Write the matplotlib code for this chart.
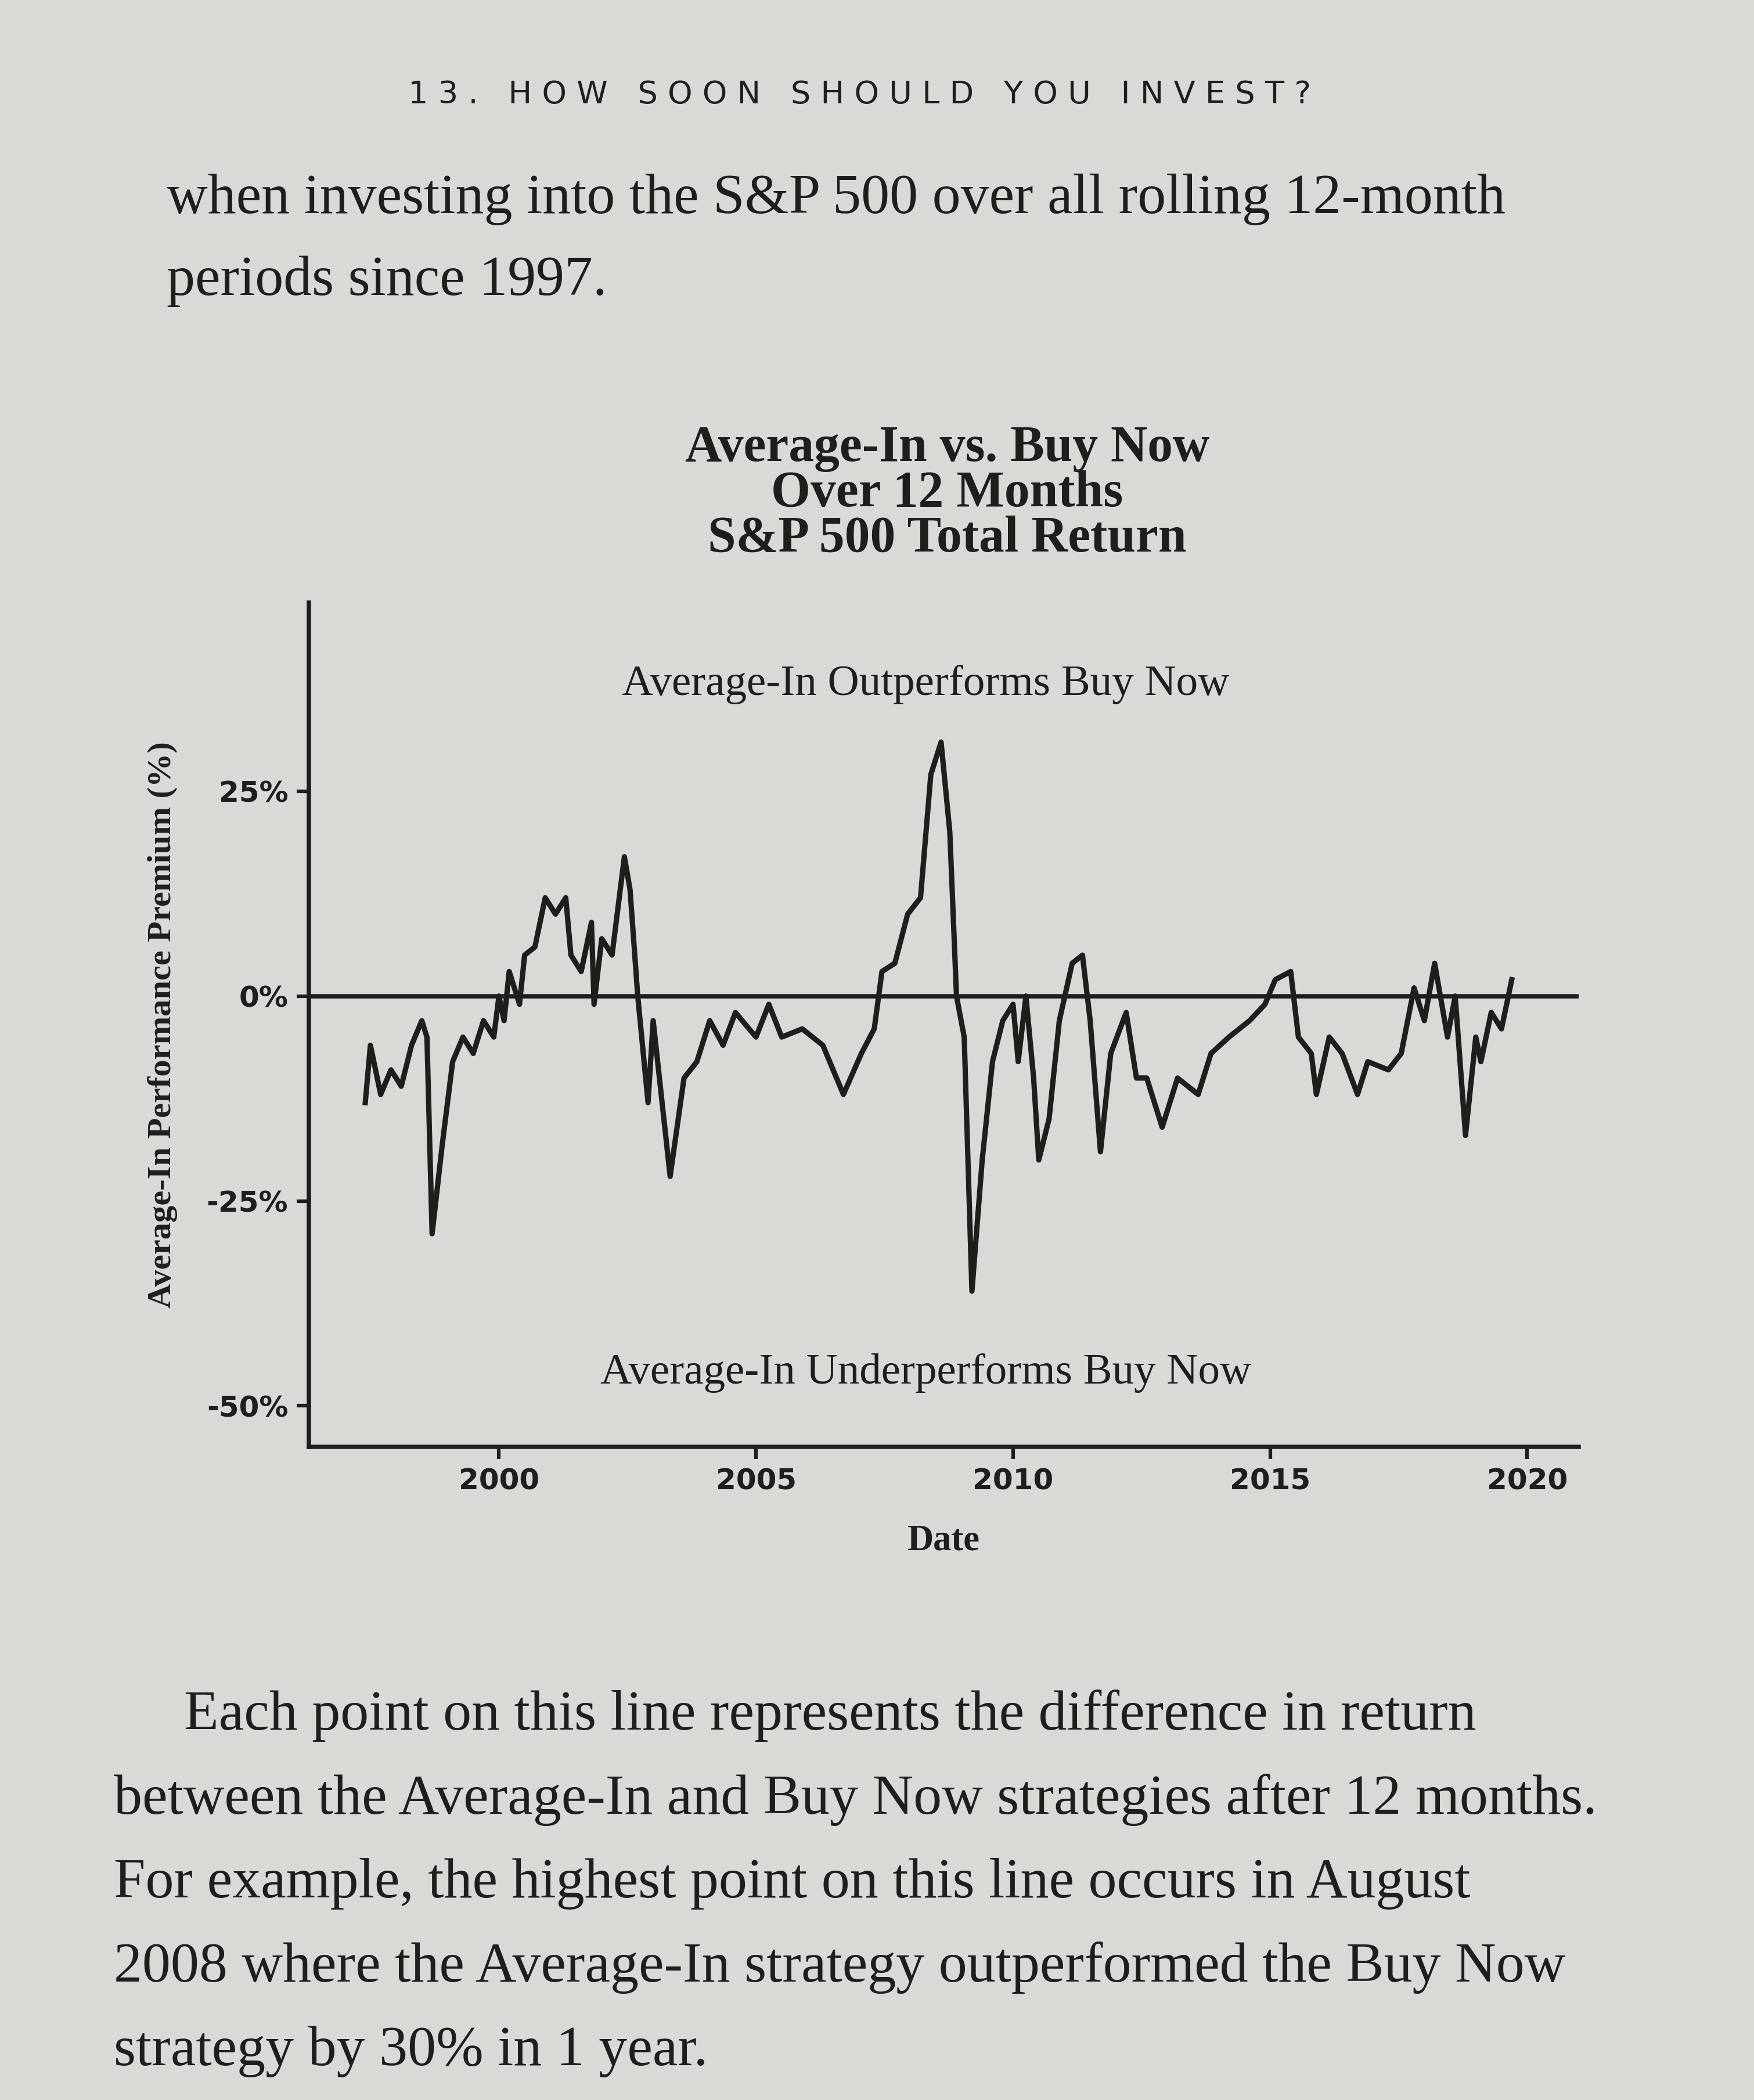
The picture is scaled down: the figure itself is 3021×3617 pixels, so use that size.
import matplotlib.pyplot as plt
import matplotlib.ticker as mticker

# values (decimal year, premium in %)
years = [1997.4, 1997.5, 1997.7, 1997.9, 1998.1, 1998.3, 1998.5, 1998.6, 1998.7, 1998.9,
         1999.1, 1999.3, 1999.5, 1999.7, 1999.9, 2000.0, 2000.1, 2000.2, 2000.4, 2000.5,
         2000.7, 2000.9, 2001.1, 2001.3, 2001.4, 2001.6, 2001.8, 2001.85, 2002.0, 2002.2,
         2002.44, 2002.55, 2002.7, 2002.9, 2003.0, 2003.33, 2003.6, 2003.85, 2004.1, 2004.36,
         2004.6, 2005.0, 2005.25, 2005.5, 2005.9, 2006.3, 2006.7, 2007.05, 2007.3, 2007.45,
         2007.7, 2007.95, 2008.2, 2008.4, 2008.6, 2008.77, 2008.9, 2009.05, 2009.2, 2009.4,
         2009.6, 2009.8, 2010.0, 2010.1, 2010.25, 2010.4, 2010.5, 2010.7, 2010.9, 2011.15,
         2011.35, 2011.5, 2011.7, 2011.9, 2012.2, 2012.4, 2012.6, 2012.9, 2013.2, 2013.6,
         2013.85, 2014.2, 2014.6, 2014.9, 2015.1, 2015.4, 2015.55, 2015.8, 2015.9, 2016.15,
         2016.4, 2016.7, 2016.9, 2017.3, 2017.55, 2017.8, 2018.0, 2018.2, 2018.45, 2018.6,
         2018.8, 2019.0, 2019.1, 2019.3, 2019.5, 2019.7]
premium = [-13, -6, -12, -9, -11, -6, -3, -5, -29, -18,
           -8, -5, -7, -3, -5, 0, -3, 3, -1, 5,
           6, 12, 10, 12, 5, 3, 9, -1, 7, 5,
           17, 13, 0, -13, -3, -22, -10, -8, -3, -6,
           -2, -5, -1, -5, -4, -6, -12, -7, -4, 3,
           4, 10, 12, 27, 31, 20, 0, -5, -36, -20,
           -8, -3, -1, -8, 0, -10, -20, -15, -3, 4,
           5, -3, -19, -7, -2, -10, -10, -16, -10, -12,
           -7, -5, -3, -1, 2, 3, -5, -7, -12, -5,
           -7, -12, -8, -9, -7, 1, -3, 4, -5, 0,
           -17, -5, -8, -2, -4, 2]
yticks = [-50, -25, 0, 25]
xticks = [2000, 2005, 2010, 2015, 2020]

bg = '#d9d9d6'
ink = '#1e1e1e'
serif = ['Liberation Serif', 'DejaVu Serif']

fig = plt.figure(figsize=(10.07, 12.057), dpi=300, facecolor=bg)

fig.text(0.49, 0.955, '1 3 .   H O W   S O O N   S H O U L D   Y O U   I N V E S T ?',
         ha='center', va='center', fontsize=13, color=ink, family='DejaVu Sans')
fig.text(0.095, 0.905, 'when investing into the S&P 500 over all rolling 12-month',
         fontsize=23.5, color=ink, family=serif, va='center')
fig.text(0.095, 0.866, 'periods since 1997.', fontsize=23.5, color=ink, family=serif, va='center')

ax = fig.add_axes([0.176, 0.311, 0.724, 0.402], facecolor=bg)
ax.plot(years, premium, color=ink, lw=2.2)
ax.axhline(0, color=ink, lw=1.8)
ax.set_xlim(1996.3, 2021)
ax.set_ylim(-55, 48)
ax.set_xticks(xticks)
ax.set_yticks(yticks)
ax.yaxis.set_major_formatter(mticker.FuncFormatter(lambda v, p: f'{v:.0f}%'))
for s in ['top', 'right']:
    ax.spines[s].set_visible(False)
for s in ['left', 'bottom']:
    ax.spines[s].set_linewidth(1.8)
    ax.spines[s].set_color(ink)
ax.tick_params(labelsize=12, colors=ink, width=1.5, length=5)
for lab in ax.get_xticklabels() + ax.get_yticklabels():
    lab.set_fontweight('bold')
ax.set_xlabel('Date', fontsize=15, fontweight='bold', family=serif, color=ink, labelpad=12)
ax.set_ylabel('Average-In Performance Premium (%)', fontsize=14, fontweight='bold',
              family=serif, color=ink, labelpad=12)
ax.text(2008.3, 38, 'Average-In Outperforms Buy Now', ha='center', va='center',
        fontsize=18, family=serif, color=ink)
ax.text(2008.3, -46, 'Average-In Underperforms Buy Now', ha='center', va='center',
        fontsize=18, family=serif, color=ink)

fig.text(0.54, 0.765, 'Average-In vs. Buy Now\nOver 12 Months\nS&P 500 Total Return',
         ha='center', va='center', fontsize=21, fontweight='bold', family=serif,
         color=ink, linespacing=0.95)

body = ['Each point on this line represents the difference in return',
        'between the Average-In and Buy Now strategies after 12 months.',
        'For example, the highest point on this line occurs in August',
        '2008 where the Average-In strategy outperformed the Buy Now',
        'strategy by 30% in 1 year.']
for i, line in enumerate(body):
    x0 = 0.105 if i == 0 else 0.065
    fig.text(x0, 0.183 - i * 0.04, line, fontsize=23.5, family=serif, color=ink, va='center')

fig.savefig('out.png', dpi=300, facecolor=bg)
